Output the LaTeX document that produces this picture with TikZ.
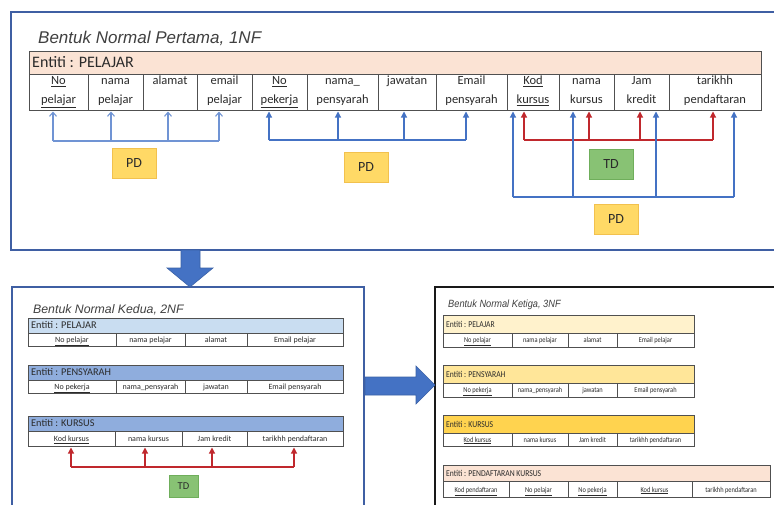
\documentclass[tikz,border=0pt]{standalone}
\usepackage{fontspec}
\setmainfont{Carlito}
\newfontfamily\titlefont{Liberation Sans}
\newfontfamily\narrowtitle[FakeStretch=0.88]{Liberation Sans}
\newfontfamily\narrowcal[FakeStretch=0.85]{Carlito}
\usetikzlibrary{arrows.meta}
\definecolor{panelblue}{HTML}{3F5FA3}
\definecolor{arrowblue}{HTML}{4472C4}
\definecolor{lightarrow}{HTML}{7094D4}
\definecolor{tdred}{HTML}{C0282D}
\definecolor{pdfill}{HTML}{FFD966}
\definecolor{pdborder}{HTML}{F2C14E}
\definecolor{tdfill}{HTML}{88C274}
\definecolor{tdborder}{HTML}{6FAE5B}
\definecolor{peach}{HTML}{FBE3D4}
\definecolor{blueA}{HTML}{C9DDF1}
\definecolor{blueB}{HTML}{8FADDD}
\definecolor{yelA}{HTML}{FFF2CC}
\definecolor{yelB}{HTML}{FFE699}
\definecolor{yelC}{HTML}{FFD34F}
\definecolor{txt}{HTML}{2B2B2B}
\definecolor{gridc}{HTML}{505050}
\definecolor{titlec}{HTML}{404040}
% top table cell: name, x1, x2, line1, line2
\newcommand\topcell[5]{%
  \node[cellbox, minimum width={(#3-#2)*1pt}, minimum height=36pt, anchor=north west] (#1) at (#2,74) {};
  \node[toptext, anchor=base] (#1a) at ({(#2+#3)/2},84.5) {#4};
  \node[toptext, anchor=base] (#1b) at ({(#2+#3)/2},103.5) {#5};}
% row cell: name, x1, x2, y1, y2, text style, text
\newcommand\rcell[7]{%
  \node[cellbox, minimum width={(#3-#2)*1pt}, minimum height={(#5-#4)*1pt}, anchor=north west] (#1) at (#2,#4) {};
  \node[#6, anchor=base] (#1t) at ({(#2+#3)/2},{#5-0.3*(#5-#4)}) {#7};}
% header cell: name, x1, x2, y1, y2, fill, text style, text
\newcommand\hcell[8]{%
  \node[cellbox, fill=#6, minimum width={(#3-#2)*1pt}, minimum height={(#5-#4)*1pt}, anchor=north west] (#1) at (#2,#4) {};
  \node[#7, anchor=base west] (#1t) at ({#2+3},{#5-0.3*(#5-#4)}) {#8};}
\begin{document}
\begin{tikzpicture}[x=1pt,y=-1pt,
  cellbox/.style={draw=gridc, line width=0.8pt, fill=white, inner sep=0pt, outer sep=0pt},
  toptext/.style={inner sep=0pt, text=txt, font=\fontsize{12.5}{15}\selectfont},
  tophdr/.style={inner sep=0pt, text=txt, font=\fontsize{16}{18}\selectfont},
  nfhdr/.style={inner sep=0pt, text=txt, font=\fontsize{10.3}{12}\selectfont},
  nfcell/.style={inner sep=0pt, text=txt, font=\fontsize{8}{10}\selectfont},
  tfhdr/.style={inner sep=0pt, text=txt, font=\narrowcal\fontsize{9}{11}\selectfont},
  tfcell/.style={inner sep=0pt, text=txt, font=\narrowcal\fontsize{7.5}{9}\selectfont},
  pdbox/.style={draw=pdborder, fill=pdfill, line width=0.8pt, minimum width=44pt, minimum height=30pt, inner sep=0pt, text=txt, font=\fontsize{14}{16}\selectfont},
  tdbox/.style={draw=tdborder, fill=tdfill, line width=0.8pt, minimum width=44pt, minimum height=30pt, inner sep=0pt, text=txt, font=\fontsize{14}{16}\selectfont},
  pdthin/.style={draw=lightarrow, line width=1.1pt, -{Straight Barb[length=4pt,width=7pt]}, shorten >=1.5pt},
  pdline/.style={draw=lightarrow, line width=1.1pt},
  pdtri/.style={draw=arrowblue, line width=1.1pt, -{Triangle[length=6pt,width=6pt]}, shorten >=1.5pt},
  bline/.style={draw=arrowblue, line width=1.1pt},
  rtri/.style={draw=tdred, line width=1.1pt, -{Triangle[length=6pt,width=6pt]}, shorten >=1.5pt},
  rline/.style={draw=tdred, line width=1.1pt},
  bigarrow/.style={fill=arrowblue, draw=arrowblue!85!black, line width=0.6pt}
]
\useasboundingbox (0,0) rectangle (774,504);
\clip (0,0) rectangle (774,504);
\fill[white] (0,0) rectangle (774,504);

% ---------- panels ----------
\draw[panelblue, line width=1.6pt] (11,12) rectangle (800,250);
\draw[panelblue, line width=1.6pt] (12,287) rectangle (364,530);
\draw[black!90, line width=1.4pt] (435,287) rectangle (800,530);

% ---------- 1NF ----------
\node[font=\titlefont\itshape\fontsize{17}{20}\selectfont, text=titlec, inner sep=0pt, anchor=base west] (t1) at (38,43) {Bentuk Normal Pertama, 1NF};
\hcell{h1}{29}{761}{51}{74}{peach}{tophdr}{Entiti : PELAJAR}
\topcell{c1}{29}{88}{\underline{No}}{\underline{pelajar}}
\topcell{c2}{88}{143}{nama}{pelajar}
\topcell{c3}{143}{197}{alamat}{}
\topcell{c4}{197}{252}{email}{pelajar}
\topcell{c5}{252}{307}{\underline{No}}{\underline{pekerja}}
\topcell{c6}{307}{378}{nama\_}{pensyarah}
\topcell{c7}{378}{436}{jawatan}{}
\topcell{c8}{436}{507}{Email}{pensyarah}
\topcell{c9}{507}{559}{\underline{Kod}}{\underline{kursus}}
\topcell{c10}{559}{614}{nama}{kursus}
\topcell{c11}{614}{669}{Jam}{kredit}
\topcell{c12}{669}{761}{tarikhh}{pendaftaran}

% group 1 (PD)
\coordinate (g1a) at (53,141);
\coordinate (g1b) at (111,141);
\coordinate (g1c) at (168,141);
\coordinate (g1d) at (219,141);
\draw[pdline] (g1a) -- (g1d);
\foreach \p/\c in {g1a/c1, g1b/c2, g1c/c3, g1d/c4} \draw[pdthin] (\p) -- (\p |- \c.south);
\node[pdbox] (pd1) at (134,163) {PD};

% group 2 (PD)
\coordinate (g2a) at (269,140);
\coordinate (g2b) at (338,140);
\coordinate (g2c) at (404,140);
\coordinate (g2d) at (466,140);
\draw[bline] (g2a) -- (g2d);
\foreach \p/\c in {g2a/c5, g2b/c6, g2c/c7, g2d/c8} \draw[pdtri] (\p) -- (\p |- \c.south);
\node[pdbox] (pd2) at (366,167) {PD};

% TD (red)
\coordinate (r1) at (524,140);
\coordinate (r2) at (589,140);
\coordinate (r3) at (640,140);
\coordinate (r4) at (713,140);
\draw[rline] (r1) -- (r4);
\foreach \p/\c in {r1/c9, r2/c10, r3/c11, r4/c12} \draw[rtri] (\p) -- (\p |- \c.south);
\node[tdbox] (td1) at (611,164) {TD};

% group 3 (PD)
\coordinate (g3a) at (513,197);
\coordinate (g3b) at (573,197);
\coordinate (g3c) at (656,197);
\coordinate (g3d) at (734,197);
\draw[bline] (g3a) -- (g3d);
\foreach \p/\c in {g3a/c9, g3b/c10, g3c/c11, g3d/c12} \draw[pdtri] (\p) -- (\p |- \c.south);
\node[pdbox] (pd3) at (616,219.5) {PD};

% ---------- 2NF ----------
\node[font=\titlefont\itshape\fontsize{12.3}{14}\selectfont, text=titlec, inner sep=0pt, anchor=base west] (t2) at (33,313) {Bentuk Normal Kedua, 2NF};
\hcell{k1}{28}{343}{318}{333}{blueA}{nfhdr}{Entiti : PELAJAR}
\rcell{k1a}{28}{116}{333}{346}{nfcell}{\underline{No pelajar}}
\rcell{k1b}{116}{185}{333}{346}{nfcell}{nama pelajar}
\rcell{k1c}{185}{247}{333}{346}{nfcell}{alamat}
\rcell{k1d}{247}{343}{333}{346}{nfcell}{Email pelajar}

\hcell{k2}{28}{343}{365}{380}{blueB}{nfhdr}{Entiti : PENSYARAH}
\rcell{k2a}{28}{116}{380}{393}{nfcell}{\underline{No pekerja}}
\rcell{k2b}{116}{185}{380}{393}{nfcell}{nama\_pensyarah}
\rcell{k2c}{185}{247}{380}{393}{nfcell}{jawatan}
\rcell{k2d}{247}{343}{380}{393}{nfcell}{Email pensyarah}

\hcell{k3}{28}{343}{416}{431}{blueB}{nfhdr}{Entiti : KURSUS}
\rcell{k3a}{28}{115}{431}{446}{nfcell}{\underline{Kod kursus}}
\rcell{k3b}{115}{182}{431}{446}{nfcell}{nama kursus}
\rcell{k3c}{182}{247}{431}{446}{nfcell}{Jam kredit}
\rcell{k3d}{247}{343}{431}{446}{nfcell}{tarikhh pendaftaran}

\coordinate (s1) at (71,467);
\coordinate (s2) at (145,467);
\coordinate (s3) at (212,467);
\coordinate (s4) at (294,467);
\draw[rline] (s1) -- (s4);
\foreach \p/\c in {s1/k3a, s2/k3b, s3/k3c, s4/k3d} \draw[rtri] (\p) -- (\p |- \c.south);
\node[tdbox, minimum width=29pt, minimum height=22pt, font=\fontsize{10.5}{12}\selectfont] (td2) at (183.5,486) {TD};

% ---------- 3NF ----------
\node[font=\narrowtitle\itshape\fontsize{10.5}{12}\selectfont, text=titlec, inner sep=0pt, anchor=base west] (t3) at (448,307) {Bentuk Normal Ketiga, 3NF};
\hcell{m1}{443}{694}{315}{333}{yelA}{tfhdr}{Entiti : PELAJAR}
\rcell{m1a}{443}{512}{333}{347}{tfcell}{\underline{No pelajar}}
\rcell{m1b}{512}{568}{333}{347}{tfcell}{nama pelajar}
\rcell{m1c}{568}{617}{333}{347}{tfcell}{alamat}
\rcell{m1d}{617}{694}{333}{347}{tfcell}{Email pelajar}

\hcell{m2}{443}{694}{365}{383}{yelB}{tfhdr}{Entiti : PENSYARAH}
\rcell{m2a}{443}{512}{383}{397}{tfcell}{\underline{No pekerja}}
\rcell{m2b}{512}{568}{383}{397}{tfcell}{nama\_pensyarah}
\rcell{m2c}{568}{617}{383}{397}{tfcell}{jawatan}
\rcell{m2d}{617}{694}{383}{397}{tfcell}{Email pensyarah}

\hcell{m3}{443}{694}{415}{433}{yelC}{tfhdr}{Entiti : KURSUS}
\rcell{m3a}{443}{512}{433}{446}{tfcell}{\underline{Kod kursus}}
\rcell{m3b}{512}{568}{433}{446}{tfcell}{nama kursus}
\rcell{m3c}{568}{617}{433}{446}{tfcell}{Jam kredit}
\rcell{m3d}{617}{694}{433}{446}{tfcell}{tarikhh pendaftaran}

\hcell{m4}{443}{770}{465}{481}{peach}{tfhdr}{Entiti : PENDAFTARAN KURSUS}
\rcell{m4a}{443}{509}{481}{497}{tfcell}{\underline{Kod pendaftaran}}
\rcell{m4b}{509}{568}{481}{497}{tfcell}{\underline{No pelajar}}
\rcell{m4c}{568}{617}{481}{497}{tfcell}{\underline{No pekerja}}
\rcell{m4d}{617}{692}{481}{497}{tfcell}{\underline{Kod kursus}}
\rcell{m4e}{692}{770}{481}{497}{tfcell}{tarikhh pendaftaran}

% ---------- big arrows ----------
\draw[bigarrow] (181,250) -- (200,250) -- (200,268) -- (213,268) -- (190,287) -- (167,268) -- (181,268) -- cycle;
\draw[bigarrow] (365,377) -- (416,377) -- (416,366) -- (435,385) -- (416,404) -- (416,395) -- (365,395) -- cycle;
\end{tikzpicture}
\end{document}
